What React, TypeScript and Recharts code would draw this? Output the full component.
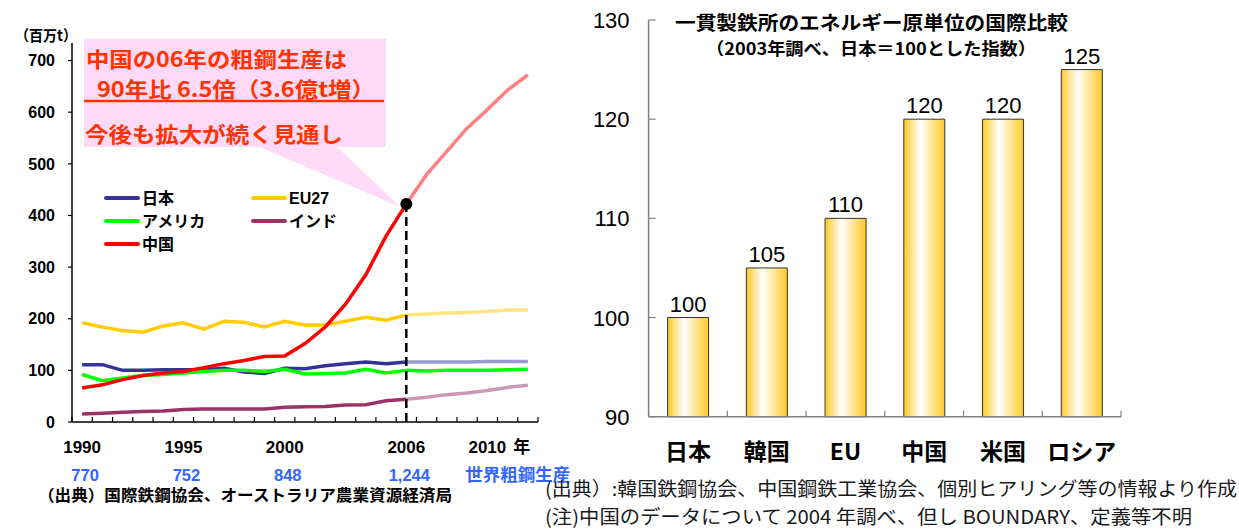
import React from 'react';
import {
  ComposedChart,
  Line,
  XAxis,
  YAxis,
  ReferenceDot,
  ReferenceLine,
  BarChart,
  Bar,
  LabelList,
} from 'recharts';

const FONT = '"Liberation Sans", "Noto Sans CJK JP", sans-serif';
const JFONT = '"Noto Sans CJK JP", "Liberation Sans", sans-serif';

// ---------- Left chart data (million t) ----------
const years = [
  1990, 1991, 1992, 1993, 1994, 1995, 1996, 1997, 1998, 1999, 2000, 2001,
  2002, 2003, 2004, 2005, 2006, 2007, 2008, 2009, 2010, 2011, 2012,
];
const lastActualYear = 2006;

// actual 1990-2006
const japanHist = [111, 111, 100, 100, 101, 101, 101, 104, 97, 94, 104, 103, 109, 113, 116, 113, 116];
const euHist = [192, 184, 177, 174, 186, 192, 180, 195, 193, 184, 195, 188, 188, 195, 203, 197, 207];
const usHist = [92, 80, 85, 90, 92, 95, 98, 100, 100, 98, 102, 93, 94, 95, 102, 95, 100];
const indiaHist = [15.5, 17, 19, 20.5, 21.5, 24, 25, 25, 25, 25, 28.5, 29.5, 30, 33, 33.5, 41, 44];
const chinaHist = [66, 72, 82, 90, 95, 98, 105, 113, 119, 127, 128, 152, 184, 228, 285, 360, 422];

// outlook 2006-2012
const japanFcst = [116, 116, 116, 116, 117, 117, 117];
const euFcst = [207, 209, 211, 212, 214, 217, 217];
const usFcst = [100, 99, 100, 100, 100, 101, 102];
const indiaFcst = [44, 48, 53, 56, 61, 67, 71];
const chinaFcst = [422, 479, 524, 569, 605, 643, 672];

const labelYears = [1990, 1995, 2000, 2006, 2010];
const worldSteel = ['770', '752', '848', '1,244', '世界粗鋼生産'];
const leftYTicks = [0, 100, 200, 300, 400, 500, 600, 700];

const seriesDefs = [
  { key: 'jp', name: '日本', color: '#333399', fcstColor: '#9999CC', hist: japanHist, fcst: japanFcst },
  { key: 'eu', name: 'EU27', color: '#FFCC00', fcstColor: '#FFE580', hist: euHist, fcst: euFcst },
  { key: 'us', name: 'アメリカ', color: '#00FF00', fcstColor: '#00FF00', hist: usHist, fcst: usFcst },
  { key: 'in', name: 'インド', color: '#993366', fcstColor: '#CC99B3', hist: indiaHist, fcst: indiaFcst },
  { key: 'cn', name: '中国', color: '#FF0000', fcstColor: '#FF8080', hist: chinaHist, fcst: chinaFcst },
];

const splitIdx = years.indexOf(lastActualYear);
const lineRows = years.map((year, i) => {
  const row: any = { x: i + 0.5, year };
  seriesDefs.forEach((s) => {
    row[s.key] = i <= splitIdx ? s.hist[i] : null;
    row[s.key + 'F'] = i >= splitIdx ? s.fcst[i - splitIdx] : null;
  });
  return row;
});

const leftXTicks = [
  ...years.map((_, i) => i),
  years.length,
  ...labelYears.map((y) => years.indexOf(y) + 0.5),
];

// ---------- Right chart data ----------
const countries = ['日本', '韓国', 'EU', '中国', '米国', 'ロシア'];
const energyIndex = [100, 105, 110, 120, 120, 125];
const rightYTicks = [90, 100, 110, 120, 130];
const barRows = countries.map((c, i) => ({ x: i + 0.5, name: c, value: energyIndex[i] }));
const rightXTicks = [
  ...countries.map((_, i) => i),
  countries.length,
  ...countries.map((_, i) => i + 0.5),
];

const PINK = '#FFD9F8';
const RED_TEXT = '#FF3300';

const LeftXTick = (props: any) => {
  const { x, y, payload } = props;
  const v = payload.value;
  if (Number.isInteger(v)) {
    return <line x1={x} y1={y} x2={x} y2={y - 5} stroke="#000" strokeWidth={1.2} />;
  }
  const year = years[Math.floor(v)];
  const k = labelYears.indexOf(year);
  const isLast = k === labelYears.length - 1;
  return (
    <g fontFamily={FONT} fontWeight="bold">
      <text x={x} y={y + 31} textAnchor="middle" fontSize={17} fill="#000">
        {year}
      </text>
      {isLast && (
        <text x={x + 26} y={y + 31} fontSize={17} fill="#000" fontFamily={JFONT}>
          年
        </text>
      )}
      {isLast ? (
        <text x={x - 22} y={y + 59} fontSize={16.5} fill="#3366FF" fontFamily={JFONT} textLength={105} lengthAdjust="spacingAndGlyphs">
          {worldSteel[k]}
        </text>
      ) : (
        <text x={x + 3} y={y + 59} textAnchor="middle" fontSize={16.5} fill="#3366FF">
          {worldSteel[k]}
        </text>
      )}
    </g>
  );
};

const RightXTick = (props: any) => {
  const { x, y, payload } = props;
  const v = payload.value;
  if (Number.isInteger(v)) {
    return <line x1={x} y1={y} x2={x} y2={y - 6} stroke="#808080" strokeWidth={1.2} />;
  }
  return (
    <text x={x} y={y + 43} textAnchor="middle" fontSize={23} fontWeight="bold" fill="#000" fontFamily={JFONT}>
      {countries[Math.floor(v)]}
    </text>
  );
};

const RightYTick = (props: any) => {
  const { x, y, payload } = props;
  return (
    <g>
      <line x1={x} y1={y} x2={x + 7} y2={y} stroke="#808080" strokeWidth={1.2} />
      <text x={x - 19} y={y + 8} textAnchor="end" fontSize={22} fill="#000" fontFamily={FONT}>
        {payload.value}
      </text>
    </g>
  );
};

const calloutShape = (p: any) => (
  <polygon points={`260,147 337,147 ${p.cx - 6},${p.cy + 3}`} fill={PINK} />
);

export default function App() {
  const lastX = lineRows[splitIdx].x;
  const lastChina = chinaHist[chinaHist.length - 1];
  const legendRows = [
    [seriesDefs[0], seriesDefs[1]],
    [seriesDefs[2], seriesDefs[3]],
    [seriesDefs[4]],
  ];
  const legendY = [198, 221, 244];
  const legendX = [106, 253];

  return (
    <div style={{ position: 'absolute', left: 0, top: 0, width: 1239, height: 531, background: '#fff', overflow: 'hidden' }}>
      {/* Left chart */}
      <div style={{ position: 'absolute', left: 0, top: 0 }}>
        <ComposedChart width={600} height={531} data={lineRows} margin={{ top: 43, right: 62, bottom: 0, left: 20 }}>
          <XAxis
            dataKey="x"
            type="number"
            domain={[0, years.length]}
            ticks={leftXTicks}
            interval={0}
            tickSize={0}
            tickMargin={0}
            tickLine={false}
            tick={<LeftXTick />}
            height={109}
            axisLine={{ stroke: '#000', strokeWidth: 1.5 }}
          />
          <YAxis
            type="number"
            domain={[0, 734]}
            ticks={leftYTicks}
            interval={0}
            width={52}
            tickSize={4}
            tickMargin={13}
            tickLine={{ stroke: '#000', strokeWidth: 1.2 }}
            axisLine={{ stroke: '#000', strokeWidth: 1.5 }}
            tick={{ fontSize: 16, fontWeight: 'bold', fill: '#000', fontFamily: FONT }}
          />
          <ReferenceDot x={lastX} y={lastChina} r={0} shape={calloutShape} />
          {seriesDefs.map((s) => (
            <Line
              key={s.key + 'F'}
              dataKey={s.key + 'F'}
              type="linear"
              stroke={s.fcstColor}
              strokeWidth={3.5}
              dot={false}
              activeDot={false}
              isAnimationActive={false}
            />
          ))}
          {seriesDefs.map((s) => (
            <Line
              key={s.key}
              dataKey={s.key}
              type="linear"
              stroke={s.color}
              strokeWidth={3.5}
              dot={false}
              activeDot={false}
              isAnimationActive={false}
            />
          ))}
          <ReferenceLine
            segment={[
              { x: lastX, y: 0 },
              { x: lastX, y: lastChina },
            ]}
            stroke="#000"
            strokeWidth={2.5}
            strokeDasharray="9 5"
          />
          <ReferenceDot x={lastX} y={lastChina} r={6} fill="#000" stroke="none" />
        </ComposedChart>
      </div>

      {/* Right chart */}
      <div style={{ position: 'absolute', left: 560, top: 0 }}>
        <BarChart width={679} height={531} data={barRows} margin={{ top: 20, right: 118, bottom: 0, left: 28 }}>
          <defs>
            <linearGradient id="barGrad" x1="0" y1="0" x2="1" y2="0">
              <stop offset="0%" stopColor="#FFC926" />
              <stop offset="40%" stopColor="#FFFFFF" />
              <stop offset="100%" stopColor="#FFC926" />
            </linearGradient>
          </defs>
          <XAxis
            dataKey="x"
            type="number"
            domain={[0, countries.length]}
            ticks={rightXTicks}
            interval={0}
            tickSize={0}
            tickMargin={0}
            tickLine={false}
            tick={<RightXTick />}
            height={114.3}
            axisLine={{ stroke: '#808080', strokeWidth: 1.5 }}
          />
          <YAxis
            type="number"
            domain={[90, 130]}
            ticks={rightYTicks}
            interval={0}
            width={60.6}
            tickSize={0}
            tickMargin={0}
            tickLine={false}
            tick={<RightYTick />}
            axisLine={{ stroke: '#808080', strokeWidth: 1.5 }}
          />
          <Bar dataKey="value" barSize={41} fill="url(#barGrad)" stroke="#333333" strokeWidth={1} isAnimationActive={false}>
            <LabelList dataKey="value" position="top" offset={6} style={{ fontSize: 22, fill: '#000', fontFamily: FONT }} />
          </Bar>
        </BarChart>
      </div>

      {/* Text overlay */}
      <svg width={1239} height={531} style={{ position: 'absolute', left: 0, top: 0, pointerEvents: 'none' }}>
        {/* unit */}
        <text x={15} y={41} fontSize={15} fontWeight="bold" fontFamily={JFONT} fill="#000" textLength={62} lengthAdjust="spacingAndGlyphs">
          （百万t）
        </text>

        {/* annotation box */}
        <rect x={84} y={39} width={302} height={108} fill={PINK} />
        <g fontFamily={JFONT} fontWeight="bold" fill={RED_TEXT} fontSize={21}>
          <text x={86} y={67} textLength={261} lengthAdjust="spacingAndGlyphs">中国の06年の粗鋼生産は</text>
          <text x={97} y={97} textLength={278} lengthAdjust="spacingAndGlyphs">90年比 6.5倍（3.6億t増）</text>
          <text x={85} y={142} textLength={258} lengthAdjust="spacingAndGlyphs">今後も拡大が続く見通し</text>
        </g>
        <line x1={84} y1={101} x2={384} y2={101} stroke={RED_TEXT} strokeWidth={2.5} />

        {/* legend */}
        {legendRows.map((row, r) =>
          row.map((s, c) => (
            <g key={s.key}>
              <line x1={legendX[c]} y1={legendY[r]} x2={legendX[c] + 32} y2={legendY[r]} stroke={s.color} strokeWidth={4} strokeLinecap="round" />
              <text x={legendX[c] + 36} y={legendY[r] + 6} fontSize={16} fontWeight="bold" fontFamily={FONT} fill="#000">
                {s.name}
              </text>
            </g>
          ))
        )}

        {/* left source */}
        <text x={38} y={501} fontSize={16} fontWeight="bold" fontFamily={JFONT} fill="#000" textLength={414} lengthAdjust="spacingAndGlyphs">
          （出典）国際鉄鋼協会、オーストラリア農業資源経済局
        </text>

        {/* right title */}
        <text x={675} y={30} fontSize={19} fontWeight="bold" fontFamily={JFONT} fill="#000" textLength={393} lengthAdjust="spacingAndGlyphs">
          一貫製鉄所のエネルギー原単位の国際比較
        </text>
        <text x={706} y={55} fontSize={17} fontWeight="bold" fontFamily={JFONT} fill="#000" textLength={330} lengthAdjust="spacingAndGlyphs">
          （2003年調べ、日本＝100とした指数）
        </text>

        {/* right notes */}
        <text x={545} y={496} fontSize={19} fontFamily={JFONT} fill="#1a1a1a" textLength={692} lengthAdjust="spacingAndGlyphs">
          (出典）:韓国鉄鋼協会、中国鋼鉄工業協会、個別ヒアリング等の情報より作成
        </text>
        <text x={545} y={524} fontSize={19} fontFamily={JFONT} fill="#1a1a1a" textLength={647} lengthAdjust="spacingAndGlyphs">
          (注)中国のデータについて 2004 年調べ、但し BOUNDARY、定義等不明
        </text>
      </svg>
    </div>
  );
}
